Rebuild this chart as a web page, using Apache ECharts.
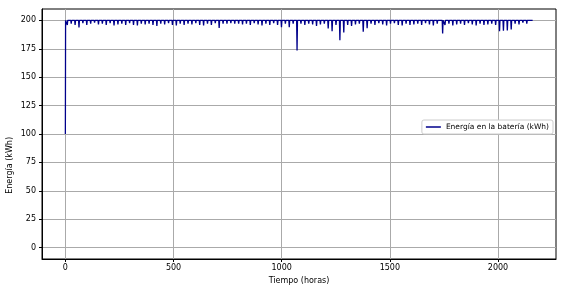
<!DOCTYPE html>
<html>
<head>
<meta charset="utf-8">
<script src="https://cdn.jsdelivr.net/npm/echarts@6/dist/echarts.min.js"></script>
<style>
html,body{margin:0;padding:0;background:#fff;}
#chart{width:568px;height:290px;}
</style>
</head>
<body>
<div id="chart"></div>
<script>
// ---- data ----
const seriesName = 'Energía en la batería (kWh)';
const startHour = 0;
const startValue = 100;
const fullValue = 200;
const endHour = 2160;
const dipHours = [9,27,45,63,81,99,117,135,153,171,189,207,225,243,261,279,297,315,333,351,
  369,387,405,423,441,459,477,495,513,531,549,567,585,603,621,639,657,675,693,711,
  729,747,765,783,801,819,837,855,873,891,909,927,945,963,981,999,1017,1035,1053,1071,
  1089,1107,1125,1143,1161,1179,1197,1215,1233,1251,1269,1287,1305,1323,1341,1359,1377,1395,1413,1431,
  1449,1467,1485,1503,1521,1539,1557,1575,1593,1611,1629,1647,1665,1683,1701,1719,1744,1755,1773,1791,
  1809,1827,1845,1863,1881,1899,1917,1935,1953,1971,1989,2007,2025,2043,2061,2079,2097,2115,2133,2151];
const dipValues = [196,197,196,193.8,197.5,196,197,198,196.5,197,
  196,197.5,195.5,196.5,197,196,197.5,196,195.5,197,
  196.5,197,196,195,197,196.5,197.5,196,195.5,197,
  196,197,196.5,197.5,196,195.5,197,196,197.5,193.4,
  197,197,197.5,197,197,196.5,197,196,197.5,196.5,
  195.5,197,196,197.5,196,194,197,194,197,173.5,
  197,196,197,196.5,195,196.5,197,192.8,190.5,196,
  182.5,189.3,196,195,196.5,197,190,193,197,196,
  197.5,196.5,195.5,197,197.5,196,195.5,197,196,196.5,
  197,196,197.5,196.5,195.5,197,188.5,196,197,195.5,
  196.5,197,196,197.5,196.5,195.5,197,196,196.5,197,
  196,190.5,190.8,191.2,192,197,196.5,198,197,198.5];
const xTicks = [0,500,1000,1500,2000];
const yTicks = [0,25,50,75,100,125,150,175,200];
const xTitle = 'Tiempo (horas)';
const yTitle = 'Energía (kWh)';

// ---- build line points ----
const points = [[startHour, startValue], [startHour + 1, fullValue]];
for (let i = 0; i < dipHours.length; i++) {
  points.push([dipHours[i] - 2, fullValue]);
  points.push([dipHours[i], dipValues[i]]);
  points.push([dipHours[i] + 2, fullValue]);
}
points.push([endHour, fullValue]);

const font = 'DejaVu Sans';
const chart = echarts.init(document.getElementById('chart'), null, {renderer: 'canvas'});
chart.setOption({
  animation: false,
  backgroundColor: '#fff',
  grid: {left: 42, right: 12, top: 9, bottom: 28, show: true, borderColor: '#000', borderWidth: 1, backgroundColor: 'transparent'},
  legend: {
    show: true,
    right: 15, top: 120,
    orient: 'vertical',
    backgroundColor: '#fff',
    borderColor: '#ccc', borderWidth: 1, borderRadius: 2,
    padding: [3, 4, 3, 4],
    itemWidth: 15, itemHeight: 8, itemGap: 4,
    icon: 'path://M0,4 L15,4 L15,5.5 L0,5.5 Z',
    textStyle: {fontFamily: font, fontSize: 7.5, color: '#000'},
    data: [seriesName]
  },
  xAxis: {
    type: 'value', min: -108, max: 2268,
    name: xTitle, nameLocation: 'middle', nameGap: 18,
    nameTextStyle: {fontFamily: font, fontSize: 8, color: '#000'},
    axisLine: {show: true, onZero: false, lineStyle: {color: '#000', width: 1}},
    axisTick: {show: true, length: 3, lineStyle: {color: '#000'}, customValues: xTicks},
    axisLabel: {fontFamily: font, fontSize: 8, color: '#000', margin: 5, customValues: xTicks,
      formatter: function (v) { return String(v); }},
    splitLine: {show: true, lineStyle: {color: '#aaaaaa', width: 1}}
  },
  yAxis: {
    type: 'value', min: -10, max: 210,
    axisLine: {show: true, onZero: false, lineStyle: {color: '#000', width: 1}},
    axisTick: {show: true, length: 3, lineStyle: {color: '#000'}, customValues: yTicks},
    axisLabel: {fontFamily: font, fontSize: 8, color: '#000', margin: 6, customValues: yTicks,
      formatter: function (v) { return String(v); }},
    splitLine: {show: true, lineStyle: {color: '#aaaaaa', width: 1}}
  },
  graphic: [{
    type: 'text', left: 6, top: 137, rotation: Math.PI / 2,
    style: {text: yTitle, fontFamily: font, fontSize: 8, fill: '#000'}
  }],
  series: [{
    name: seriesName, type: 'line', data: points,
    showSymbol: false, symbol: 'none',
    lineStyle: {color: '#00008b', width: 1.3},
    itemStyle: {color: '#00008b'}
  }]
});
</script>
</body>
</html>
